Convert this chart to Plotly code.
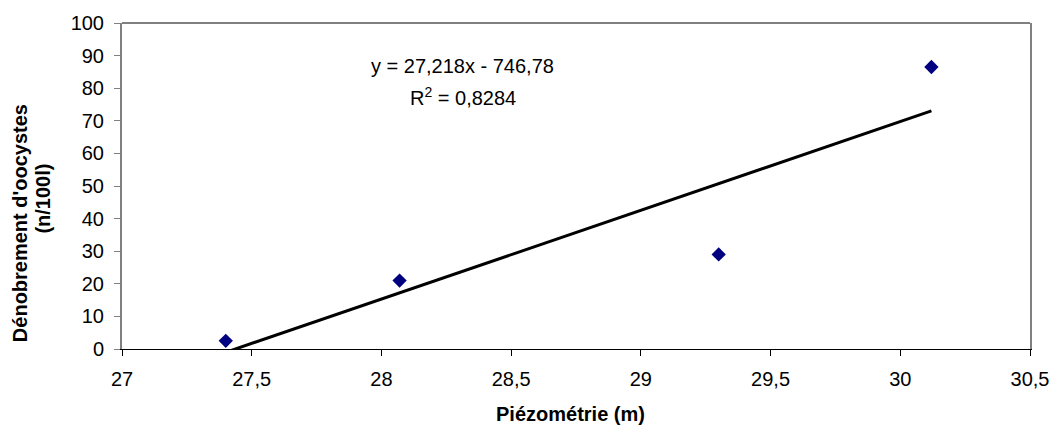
import numpy as np
import plotly.graph_objects as go

# Observations: piezometric level (m) vs oocyst count (n/100 l)
piezometrie = [27.40, 28.07, 29.30, 30.12]
oocystes = [2.5, 21.0, 29.0, 86.5]

# Linear trend as displayed on the chart
slope = 27.218
intercept = -746.78
r2 = 0.8284

x_ticks = [27, 27.5, 28, 28.5, 29, 29.5, 30, 30.5]
y_ticks = [0, 10, 20, 30, 40, 50, 60, 70, 80, 90, 100]

font_family = "Liberation Sans, Arial, sans-serif"

xt = np.linspace(min(piezometrie), max(piezometrie), 60)
yt = slope * xt + intercept

fig = go.Figure()
fig.add_trace(go.Scatter(
    x=xt, y=yt, mode="lines",
    line=dict(color="black", width=3),
    hoverinfo="skip", showlegend=False,
))
fig.add_trace(go.Scatter(
    x=piezometrie, y=oocystes, mode="markers",
    marker=dict(symbol="diamond", size=11, color="#000080"),
    showlegend=False,
))


def fmt(v, nd):
    return f"{v:.{nd}f}".replace(".", ",")


eq_text = f"y = {fmt(slope, 3)}x - {fmt(-intercept, 2)}"
r2_text = f"R<sup>2</sup> = {fmt(r2, 4)}"

common = dict(xref="paper", yref="paper", showarrow=False,
              xanchor="center", yanchor="middle")
annotations = [
    dict(text=eq_text, x=0.375, y=0.868,
         font=dict(size=20, color="black"), **common),
    dict(text=r2_text, x=0.375, y=0.775,
         font=dict(size=20, color="black"), **common),
    dict(text="<b>Piézométrie (m)</b>", x=0.494, y=-0.199,
         font=dict(size=20, color="black"), **common),
    dict(text="<b>Dénobrement d'oocystes</b>", x=-0.1116, y=0.385,
         textangle=-90, font=dict(size=20, color="black"), **common),
    dict(text="<b>(n/100l)</b>", x=-0.0875, y=0.46,
         textangle=-90, font=dict(size=20, color="black"), **common),
]

fig.update_layout(
    width=1061, height=435,
    margin=dict(l=122, r=25, t=17, b=86),
    paper_bgcolor="white", plot_bgcolor="white",
    separators=", ",
    font=dict(family=font_family, size=20, color="black"),
    annotations=annotations,
    shapes=[dict(type="line", xref="paper", yref="paper",
                 x0=0, x1=1, y0=1, y1=1,
                 line=dict(color="#808080", width=2))],
    xaxis=dict(
        range=[27, 30.5], tickvals=x_ticks, ticks="outside", ticklen=6,
        tickcolor="black", showline=True, linecolor="black", linewidth=1,
        showgrid=False, zeroline=False, ticklabelstandoff=6,
    ),
    yaxis=dict(
        range=[0, 100], tickvals=y_ticks, ticks="outside", ticklen=6,
        tickcolor="#808080", showline=True, linecolor="#808080", linewidth=2,
        mirror=True, showgrid=False, zeroline=False, ticklabelstandoff=6,
    ),
)

fig.write_html("out.html")
